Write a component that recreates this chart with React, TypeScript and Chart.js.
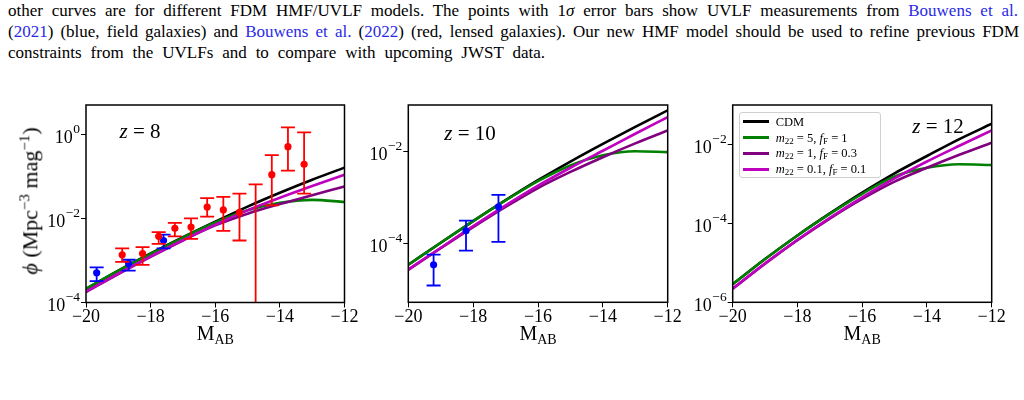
import React, { useEffect, useRef } from 'react';
import { Chart, registerables } from 'chart.js';

Chart.register(...registerables);

// ---------------- data ----------------
const magGrid = [-20, -19, -18, -17, -16, -15, -14, -13, -12];

const seriesNames = ['CDM', 'm22 = 5, fF = 1', 'm22 = 1, fF = 0.3', 'm22 = 0.1, fF = 0.1'];
const seriesColors = ['#000000', '#008000', '#800080', '#bf00bf'];
const legendM22 = ['', '5', '1', '0.1'];
const legendFF = ['', '1', '0.3', '0.1'];

// log10 phi (Mpc^-3 mag^-1)
const cdmZ8 = [-3.68, -3.24, -2.83, -2.44, -2.07, -1.71, -1.38, -1.07, -0.78];
const m5Z8 = [-3.67, -3.24, -2.84, -2.45, -2.09, -1.8, -1.62, -1.55, -1.6];
const m1Z8 = [-3.75, -3.32, -2.91, -2.52, -2.16, -1.88, -1.65, -1.44, -1.23];
const m01Z8 = [-3.74, -3.31, -2.9, -2.51, -2.14, -1.8, -1.5, -1.22, -0.95];

const cdmZ10 = [-4.46, -3.98, -3.51, -3.055, -2.62, -2.215, -1.83, -1.46, -1.1];
const m5Z10 = [-4.46, -3.98, -3.51, -3.06, -2.64, -2.3, -2.08, -1.99, -2.01];
const m1Z10 = [-4.57, -4.1, -3.64, -3.2, -2.79, -2.44, -2.12, -1.82, -1.54];
const m01Z10 = [-4.56, -4.09, -3.62, -3.17, -2.74, -2.35, -1.98, -1.61, -1.25];

const cdmZ12 = [-5.54, -4.9, -4.3, -3.74, -3.21, -2.72, -2.28, -1.85, -1.46];
const m5Z12 = [-5.54, -4.9, -4.3, -3.75, -3.24, -2.8, -2.58, -2.49, -2.51];
const m1Z12 = [-5.66, -5.02, -4.42, -3.87, -3.37, -2.93, -2.58, -2.25, -1.94];
const m01Z12 = [-5.65, -5.01, -4.41, -3.85, -3.33, -2.85, -2.42, -2.02, -1.63];

// Bouwens et al. (2022), lensed galaxies, z = 8 (log10 phi, upper, lower)
const redMagZ8 = [-18.88, -18.25, -17.75, -17.25, -16.75, -16.25, -15.75, -15.25, -14.75, -14.25, -13.75, -13.25];
const redLogZ8 = [-2.86, -2.83, -2.42, -2.23, -2.2, -1.72, -1.79, -1.85, null, -0.95, -0.28, -0.7];
const redHiZ8 = [-2.71, -2.68, -2.32, -2.1, -1.99, -1.51, -1.48, -1.4, -1.18, -0.48, 0.18, 0.06];
const redLoZ8 = [-3.03, -3.1, -2.6, -2.42, -2.48, -1.95, -2.29, -2.52, -5, -1.68, -0.85, -1.4];

// Bouwens et al. (2021), field galaxies
const blueMagZ8 = [-19.67, -18.68, -17.6];
const blueLogZ8 = [-3.29, -3.07, -2.52];
const blueHiZ8 = [-3.16, -2.98, -2.38];
const blueLoZ8 = [-3.49, -3.24, -2.71];

const blueMagZ10 = [-19.22, -18.22, -17.22];
const blueLogZ10 = [-4.46, -3.72, -3.2];
const blueHiZ10 = [-4.24, -3.5, -2.94];
const blueLoZ10 = [-4.91, -4.15, -3.96];

const xTicks = [-20, -18, -16, -14, -12];
const xTickLabels = ['\u221220', '\u221218', '\u221216', '\u221214', '\u221212'];

const yTicksZ8 = [1e-4, 1e-2, 1];
const yExpZ8 = ['\u22124', '\u22122', '0'];
const yTicksZ10 = [1e-4, 1e-2];
const yExpZ10 = ['\u22124', '\u22122'];
const yTicksZ12 = [1e-6, 1e-4, 1e-2];
const yExpZ12 = ['\u22126', '\u22124', '\u22122'];

const yRangeZ8 = [1e-4, 5.18];
const yRangeZ10 = [5.3e-6, 0.1035];
const yRangeZ12 = [1e-6, 0.104];

// ---------------- layout ----------------
const FONT = '"Liberation Serif", "DejaVu Serif", serif';
const plotBoxes = [
  { l: 86, r: 344.5, t: 105, b: 302.5 },
  { l: 408.3, r: 667.7, t: 105, b: 302.3 },
  { l: 732.7, r: 991.7, t: 105, b: 302.3 },
];

type Obs = { mags: number[]; logs: (number | null)[]; hi: number[]; lo: number[]; color: string; label: string };

const panels = [
  {
    z: 8, curves: [cdmZ8, m5Z8, m1Z8, m01Z8], yRange: yRangeZ8, yTicks: yTicksZ8, yExp: yExpZ8,
    obs: [
      { mags: redMagZ8, logs: redLogZ8, hi: redHiZ8, lo: redLoZ8, color: '#ff0000', label: 'Bouwens et al. (2022)' },
      { mags: blueMagZ8, logs: blueLogZ8, hi: blueHiZ8, lo: blueLoZ8, color: '#0000ff', label: 'Bouwens et al. (2021)' },
    ] as Obs[],
    zPos: [140, 131],
  },
  {
    z: 10, curves: [cdmZ10, m5Z10, m1Z10, m01Z10], yRange: yRangeZ10, yTicks: yTicksZ10, yExp: yExpZ10,
    obs: [
      { mags: blueMagZ10, logs: blueLogZ10, hi: blueHiZ10, lo: blueLoZ10, color: '#0000ff', label: 'Bouwens et al. (2021)' },
    ] as Obs[],
    zPos: [470, 133],
  },
  {
    z: 12, curves: [cdmZ12, m5Z12, m1Z12, m01Z12], yRange: yRangeZ12, yTicks: yTicksZ12, yExp: yExpZ12,
    obs: [] as Obs[],
    zPos: [938, 126],
  },
];

const errorBarPlugin = {
  id: 'errorBars',
  beforeDatasetDraw(chart: any, args: any) {
    const ds = chart.data.datasets[args.index];
    if (!ds.errHi) return;
    const { ctx, chartArea: a } = chart;
    const xs = chart.scales.x;
    const ys = chart.scales.y;
    const cap = 7;
    ctx.save();
    ctx.beginPath();
    ctx.rect(a.left, a.top, a.right - a.left, a.bottom - a.top);
    ctx.clip();
    ctx.strokeStyle = ds.errColor;
    ctx.lineWidth = 1.8;
    ds.data.forEach((pt: any, i: number) => {
      const px = xs.getPixelForValue(pt.x);
      const yHi = ys.getPixelForValue(ds.errHi[i]);
      const yLo = ys.getPixelForValue(ds.errLo[i]);
      ctx.beginPath();
      ctx.moveTo(px, yLo);
      ctx.lineTo(px, yHi);
      ctx.moveTo(px - cap, yLo);
      ctx.lineTo(px + cap, yLo);
      ctx.moveTo(px - cap, yHi);
      ctx.lineTo(px + cap, yHi);
      ctx.stroke();
    });
    ctx.restore();
  },
};

const framePlugin = {
  id: 'frame',
  afterDatasetsDraw(chart: any) {
    const { ctx, chartArea: a } = chart;
    ctx.save();
    ctx.strokeStyle = '#000';
    ctx.lineWidth = 1.5;
    ctx.strokeRect(a.left, a.top, a.right - a.left, a.bottom - a.top);
    ctx.restore();
  },
};

// y tick labels of the form 10^n, drawn at the log scale's own tick positions
const powerLabelPlugin = {
  id: 'powerLabels',
  afterDraw(chart: any, _args: any, opts: any) {
    const ys = chart.scales.y;
    const ctx = chart.ctx;
    const right = chart.chartArea.left - 6;
    ctx.save();
    ctx.fillStyle = '#000';
    ctx.textAlign = 'left';
    ctx.textBaseline = 'alphabetic';
    ys.ticks.forEach((t: any) => {
      const i = opts.values.indexOf(t.value);
      if (i < 0) return;
      const exp = opts.exps[i];
      const y = ys.getPixelForValue(t.value);
      ctx.font = `13.5px ${FONT}`;
      const ew = ctx.measureText(exp).width;
      ctx.font = `18px ${FONT}`;
      const bw = ctx.measureText('10').width;
      const x0 = right - ew - bw - 0.5;
      ctx.fillText('10', x0, y + 8.3);
      ctx.font = `13.5px ${FONT}`;
      ctx.fillText(exp, x0 + bw + 0.5, y - 1.6);
    });
    ctx.restore();
  },
};

function canvasGeom(i: number) {
  const b = plotBoxes[i];
  const cl = i === 0 ? 0 : Math.floor(b.l) - 80;
  const ct = 95;
  const W = Math.ceil(b.r) + 26 - cl;
  const H = 262;
  return { cl, ct, W, H, yW: b.l - cl, padT: b.t - ct, padR: cl + W - b.r, xH: ct + H - b.b };
}

function Panel({ index }: { index: number }) {
  const ref = useRef<HTMLCanvasElement>(null);
  const g = canvasGeom(index);
  useEffect(() => {
    const p = panels[index];
    const datasets: any[] = [];
    p.obs.forEach((o) => {
      datasets.push({
        label: o.label,
        data: o.mags.map((m, i) => ({ x: m, y: o.logs[i] === null ? null : Math.pow(10, o.logs[i] as number) })),
        errHi: o.hi.map((v) => Math.pow(10, v)),
        errLo: o.lo.map((v) => Math.pow(10, v)),
        errColor: o.color,
        showLine: false,
        pointRadius: 3.6,
        pointBorderWidth: 0,
        pointBackgroundColor: o.color,
        borderColor: o.color,
        order: 0,
      });
    });
    p.curves.forEach((arr, k) => {
      datasets.push({
        label: seriesNames[k],
        data: magGrid.map((m, i) => ({ x: m, y: Math.pow(10, arr[i]) })),
        borderColor: seriesColors[k],
        borderWidth: 2.6,
        pointRadius: 0,
        fill: false,
        cubicInterpolationMode: 'monotone',
        order: 4 - k,
      });
    });
    const chart = new Chart(ref.current as HTMLCanvasElement, {
      type: 'line',
      data: { datasets },
      options: {
        animation: false,
        responsive: false,
        devicePixelRatio: 1,
        layout: { padding: { left: 0, top: g.padT, right: g.padR, bottom: 0 } },
        plugins: {
          legend: { display: false },
          tooltip: { enabled: false },
          powerLabels: { values: p.yTicks, exps: p.yExp },
        },
        scales: {
          x: {
            type: 'linear',
            min: -20,
            max: -12,
            afterBuildTicks: (s: any) => { s.ticks = xTicks.map((v) => ({ value: v })); },
            afterFit: (s: any) => { s.height = g.xH; },
            ticks: {
              autoSkip: false,
              maxRotation: 0,
              color: '#000',
              padding: -1,
              font: { family: FONT, size: 18 },
              callback: (v: any) => xTickLabels[xTicks.indexOf(Number(v))],
            },
            grid: { drawOnChartArea: false, drawTicks: true, tickLength: 5, color: '#000', lineWidth: 1 },
            border: { display: false },
          },
          y: {
            type: 'logarithmic',
            min: p.yRange[0],
            max: p.yRange[1],
            afterBuildTicks: (s: any) => { s.ticks = p.yTicks.map((v) => ({ value: v })); },
            afterFit: (s: any) => { s.width = g.yW; },
            ticks: { display: false, autoSkip: false },
            grid: { drawOnChartArea: false, drawTicks: true, tickLength: 5, color: '#000', lineWidth: 1 },
            border: { display: false },
          },
        },
      } as any,
      plugins: [errorBarPlugin, framePlugin, powerLabelPlugin],
    });
    return () => chart.destroy();
  }, [index]);
  return (
    <canvas
      ref={ref}
      width={g.W}
      height={g.H}
      style={{ position: 'absolute', left: g.cl, top: g.ct, width: g.W, height: g.H }}
    />
  );
}

const blue = { color: '#2a2ae6' };

function Caption() {
  const line: React.CSSProperties = {
    position: 'absolute', left: 8, fontSize: 17, lineHeight: '21px', textAlign: 'justify',
    textAlignLast: 'justify' as any, fontFamily: FONT, color: '#000', whiteSpace: 'normal',
  };
  return (
    <>
      <div style={{ ...line, top: 0, width: 1010 }}>
        other curves are for different FDM HMF/UVLF models. The points with 1<i>σ</i> error bars show UVLF measurements from <span style={blue}>Bouwens et al.</span>
      </div>
      <div style={{ ...line, top: 21, width: 1011 }}>
        (<span style={blue}>2021</span>) (blue, field galaxies) and <span style={blue}>Bouwens et al.</span> (<span style={blue}>2022</span>) (red, lensed galaxies). Our new HMF model should be used to refine previous FDM
      </div>
      <div style={{ ...line, top: 42, width: 537 }}>
        constraints from the UVLFs and to compare with upcoming JWST data.
      </div>
    </>
  );
}

function Legend() {
  return (
    <div
      style={{
        position: 'absolute', left: 738.7, top: 111.7, width: 142, height: 66.6, boxSizing: 'border-box',
        border: '1px solid #d0d0d0', borderRadius: 3, background: 'rgba(255,255,255,0.85)', fontFamily: FONT,
      }}
    >
      {seriesNames.map((name, k) => (
        <div key={name} style={{ position: 'absolute', left: 0, top: 1 + k * 15.9, height: 16, width: 140 }}>
          <div style={{ position: 'absolute', left: 3, top: 6.5, width: 26, height: 3, background: seriesColors[k] }} />
          <div style={{ position: 'absolute', left: 36, top: 0, lineHeight: '16px', fontSize: 12.5, whiteSpace: 'nowrap' }}>
            {k === 0 ? (
              name
            ) : (
              <>
                <i>m</i><sub style={{ fontSize: 9, verticalAlign: '-2px' }}>22</sub> = {legendM22[k]}, <i>f</i>
                <sub style={{ fontSize: 9, verticalAlign: '-2px' }}>F</sub> = {legendFF[k]}
              </>
            )}
          </div>
        </div>
      ))}
    </div>
  );
}

export default function App() {
  return (
    <div style={{ position: 'absolute', left: 0, top: 0, width: 1024, height: 400, background: '#fff', overflow: 'hidden', fontFamily: FONT }}>
      <Caption />
      {panels.map((p, i) => (
        <Panel key={p.z} index={i} />
      ))}
      {panels.map((p) => (
        <div
          key={'z' + p.z}
          style={{ position: 'absolute', left: p.zPos[0], top: p.zPos[1], transform: 'translate(-50%, -50%)', fontSize: 21, whiteSpace: 'nowrap' }}
        >
          <i>z</i> = {p.z}
        </div>
      ))}
      {plotBoxes.map((b, i) => (
        <div
          key={'xt' + i}
          style={{ position: 'absolute', left: (b.l + b.r) / 2, top: 335, transform: 'translate(-50%, -50%)', fontSize: 20, whiteSpace: 'nowrap' }}
        >
          M<sub style={{ fontSize: 14, verticalAlign: '-4px' }}>AB</sub>
        </div>
      ))}
      <div
        style={{ position: 'absolute', left: 30, top: 201, transform: 'translate(-50%, -50%) rotate(-90deg)', fontSize: 22, whiteSpace: 'nowrap' }}
      >
        <i>ϕ</i> (Mpc<sup style={{ fontSize: 15 }}>−3</sup> mag<sup style={{ fontSize: 15 }}>−1</sup>)
      </div>
      <Legend />
    </div>
  );
}
